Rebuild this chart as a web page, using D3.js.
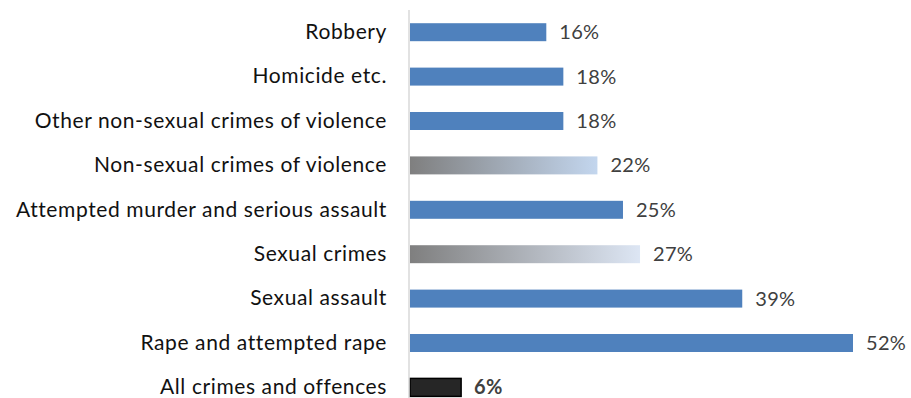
<!DOCTYPE html>
<html>
<head>
<meta charset="utf-8">
<script src="https://cdn.jsdelivr.net/npm/d3@7"></script>
<style>
  html, body { margin: 0; padding: 0; background: #fff; }
  svg { display: block; }
</style>
</head>
<body>
<svg id="chart" width="911" height="398"></svg>
<script>
// Share of reported offences, by type of crime
const categories = [
  "Robbery",
  "Homicide etc.",
  "Other non-sexual crimes of violence",
  "Non-sexual crimes of violence",
  "Attempted murder and serious assault",
  "Sexual crimes",
  "Sexual assault",
  "Rape and attempted rape",
  "All crimes and offences"
];
const values = [16, 18, 18, 22, 25, 27, 39, 52, 6];
// bar style: "sub" = subcategory, "group" = category total, "all" = overall total
const kinds = ["sub", "sub", "sub", "group", "sub", "group", "sub", "sub", "all"];
const groupEndColors = { "Non-sexual crimes of violence": "#c3d6ee", "Sexual crimes": "#dde6f4" };

const svg = d3.select("#chart");
const x0 = 410;
const x = d3.scaleLinear().domain([0, 52]).range([x0, 853]);
const y = d3.scaleBand().domain(categories).range([10, 409.6])
  .paddingInner(0.595).paddingOuter(0.2975);

const defs = svg.append("defs");
categories.forEach((c, i) => {
  if (kinds[i] === "group") {
    const g = defs.append("linearGradient").attr("id", "grad" + i)
      .attr("x1", "0%").attr("x2", "100%").attr("y1", "0%").attr("y2", "0%");
    g.append("stop").attr("offset", "0%").attr("stop-color", "#7f7f7f");
    g.append("stop").attr("offset", "100%").attr("stop-color", groupEndColors[c]);
  }
});

const data = categories.map((c, i) => ({ c, v: values[i], k: kinds[i], i }));

svg.selectAll("rect.bar").data(data).join("rect")
  .attr("class", "bar")
  .attr("x", x(0))
  .attr("y", d => y(d.c))
  .attr("width", d => x(d.v) - x(0))
  .attr("height", y.bandwidth())
  .attr("fill", d => d.k === "sub" ? "#4f81bd" : d.k === "group" ? `url(#grad${d.i})` : "#262626")
  .attr("stroke", d => d.k === "all" ? "#000" : "none")
  .attr("stroke-width", 1.5);

// category axis
const axis = d3.axisLeft(y).tickSize(0).tickPadding(22);
const ag = svg.append("g").attr("transform", `translate(${x0 - 1},0)`).call(axis);
ag.select(".domain").remove();
ag.selectAll("text")
  .attr("font-family", "Lato, 'Open Sans', sans-serif")
  .attr("font-size", 21)
  .attr("letter-spacing", 0.6)
  .attr("fill", "#111");
svg.append("line")
  .attr("x1", x0 - 1).attr("x2", x0 - 1)
  .attr("y1", 10).attr("y2", 398)
  .attr("stroke", "#d9d9d9").attr("stroke-width", 1.5);

// value labels
svg.selectAll("text.val").data(data).join("text")
  .attr("class", "val")
  .attr("x", d => x(d.v) + 13)
  .attr("y", d => y(d.c) + y.bandwidth() / 2 + 7)
  .attr("font-family", "Lato, 'Open Sans', sans-serif")
  .attr("font-size", 20)
  .attr("letter-spacing", 0.3)
  .attr("font-weight", d => d.k === "all" ? "bold" : "normal")
  .attr("fill", "#404040")
  .text(d => d.v + "%");
</script>
</body>
</html>
